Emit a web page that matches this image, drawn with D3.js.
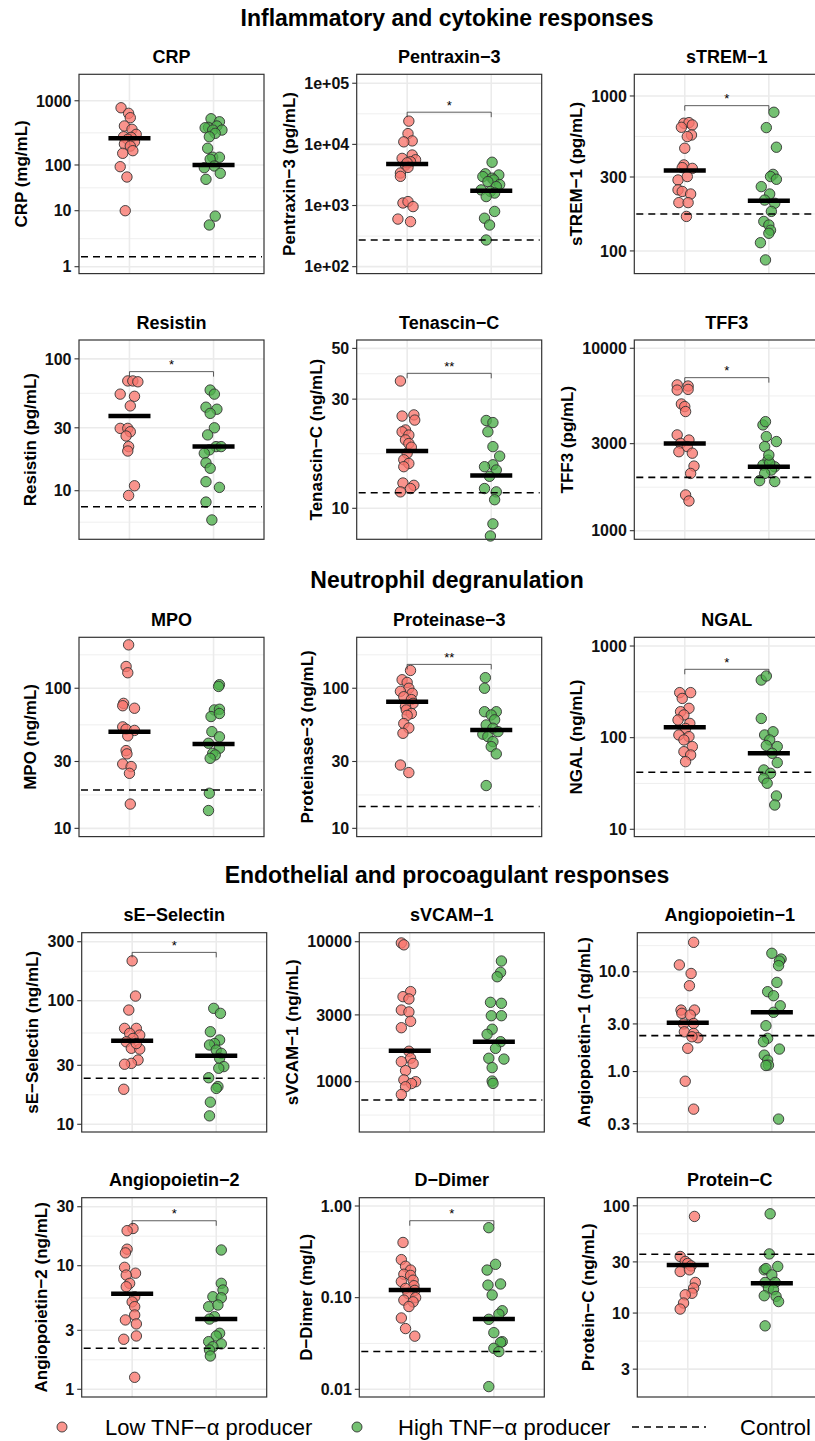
<!DOCTYPE html>
<html>
<head>
<meta charset="utf-8">
<script src="https://cdn.jsdelivr.net/npm/d3@7"></script>
<style>
  body { margin: 0; background: #fff; }
  svg { display: block; font-family: 'Liberation Sans', Arial, sans-serif; }
</style>
</head>
<body>
<svg id="chart" width="815" height="1441"></svg>
<script>
// ---- data ----
const sections = ['Inflammatory and cytokine responses', 'Neutrophil degranulation', 'Endothelial and procoagulant responses'];
const markers = ['CRP', 'Pentraxin−3', 'sTREM−1', 'Resistin', 'Tenascin−C', 'TFF3', 'MPO', 'Proteinase−3', 'NGAL',
  'sE−Selectin', 'sVCAM−1', 'Angiopoietin−1', 'Angiopoietin−2', 'D−Dimer', 'Protein−C'];
const units = ['mg/mL', 'pg/mL', 'pg/mL', 'pg/mL', 'ng/mL', 'pg/mL', 'ng/mL', 'ng/mL', 'ng/mL',
  'ng/mL', 'ng/mL', 'ng/mL', 'ng/mL', 'mg/L', 'ng/mL'];
const groups = ['Low', 'High'];
const legendLabels = ['Low TNF−α producer', 'High TNF−α producer', 'Control'];

const yTicks = [
  [1, 10, 100, 1000], [1e2, 1e3, 1e4, 1e5], [100, 300, 1000],
  [10, 30, 100], [10, 30, 50], [1000, 3000, 10000],
  [10, 30, 100], [10, 30, 100], [10, 100, 1000],
  [10, 30, 100, 300], [1000, 3000, 10000], [0.3, 1, 3, 10],
  [1, 3, 10, 30], [0.01, 0.1, 1], [3, 10, 30, 100]
];
const yTickLabels = [
  ['1', '10', '100', '1000'], ['1e+02', '1e+03', '1e+04', '1e+05'], ['100', '300', '1000'],
  ['10', '30', '100'], ['10', '30', '50'], ['1000', '3000', '10000'],
  ['10', '30', '100'], ['10', '30', '100'], ['10', '100', '1000'],
  ['10', '30', '100', '300'], ['1000', '3000', '10000'], ['0.3', '1.0', '3.0', '10.0'],
  ['1', '3', '10', '30'], ['0.01', '0.10', '1.00'], ['3', '10', '30', '100']
];
const yLimits = [
  [0.753, 2570], [77, 140000], [71.4, 1380],
  [4.28, 139], [7.32, 54.4], [897, 11100],
  [8.73, 231], [8.73, 231], [8.32, 1245],
  [8.66, 355], [437, 11600], [0.248, 24.6],
  [0.866, 35.5], [0.00824, 1.232], [1.65, 119]
];

const lowMedians = [260, 4790, 331, 36.9, 17.8, 3010, 49, 80, 130, 47.5, 1665, 3.08, 5.94, 0.121, 28];
const highMedians = [100, 1750, 211, 21.6, 13.9, 2240, 40, 50.4, 67.4, 35.9, 1930, 3.92, 3.7, 0.0585, 19.0];
const controls = [1.51, 273, 173, 7.55, 11.7, 1960, 18.8, 14.3, 41.9, 23.6, 740, 2.29, 2.15, 0.0258, 35.4];
const sigLabels = ['', '*', '*', '*', '**', '*', '', '**', '*', '*', '', '', '*', '*', ''];
const sigLevels = [null, 33600, 866, 80, 38.9, 6900, null, 148, 557, 246, null, null, 23.1, 0.691, null];

// individual patients (value) and horizontal jitter (in category widths)
const crpLow = [778, 637, 545, 405, 359, 300, 275, 269, 251, 230, 212, 197, 167, 152, 91.8, 54.6, 10];
const crpLowJit = [-0.10, -0.01, 0.01, -0.06, 0.03, 0.08, -0.07, 0.02, -0.02, 0.06, -0.06, 0.01, 0.04, -0.08, -0.11, -0.03, -0.05];
const crpHigh = [525, 471, 385, 405, 380, 350, 350, 311, 275, 182, 132, 132, 123, 87.3, 95, 65.8, 48.6, 8.0, 5.56];
const crpHighJit = [-0.03, 0.07, -0.06, 0.04, -0.10, -0.01, 0.10, 0.02, -0.05, -0.07, -0.01, 0.07, -0.04, -0.11, 0.01, 0.08, -0.09, 0.02, -0.05];

const ptx3Low = [24000, 15000, 11400, 11000, 6700, 5600, 5900, 5200, 4600, 3400, 3000, 1100, 1160, 960, 600, 545, 5000, 4200];
const ptx3LowJit = [0.02, 0.01, 0.06, -0.04, 0.06, 0.10, -0.06, 0.04, -0.02, -0.08, -0.08, -0.05, 0.01, 0.07, -0.11, 0.04, 0, 0.01];
const ptx3High = [5100, 3300, 3160, 2970, 2800, 2620, 2460, 2200, 2040, 1800, 1700, 1600, 1400, 800, 620, 480, 273];
const ptx3HighJit = [0.01, -0.07, 0.09, -0.10, 0.01, 0.03, -0.04, 0.10, 0.06, -0.12, -0.01, 0.04, -0.06, 0.04, -0.08, -0.02, -0.06];

const tremLow = [667, 673, 650, 628, 560, 547, 460, 359, 345, 341, 287, 302, 248, 242, 233, 205, 205, 167];
const tremLowJit = [-0.01, 0.05, 0.09, -0.04, 0.08, 0.03, 0, -0.01, -0.03, 0.09, -0.08, 0.03, -0.08, -0.03, 0.07, -0.07, 0.04, 0.02];
const tremHigh = [785, 625, 467, 312, 302, 290, 260, 233, 213, 203, 180, 155, 147, 136, 130, 113, 87.5];
const tremHighJit = [0.06, -0.03, 0.09, 0.05, 0.02, 0.09, -0.09, 0.01, -0.05, 0.07, 0.03, -0.06, 0, 0.02, 0, -0.10, -0.04];

const resLow = [68, 68, 67, 54, 52, 44, 29.7, 29.7, 28, 26, 21.6, 20, 10.9, 9.2];
const resLowJit = [-0.02, 0.04, 0.10, -0.11, 0.06, 0.01, -0.11, -0.02, 0.01, -0.04, -0.01, -0.02, 0.06, -0.01];
const resHigh = [58, 54, 43, 41.5, 38.6, 30, 26.5, 21.6, 20.4, 21.6, 19.2, 16.3, 14.8, 11.7, 10.6, 8.2, 6.0];
const resHighJit = [-0.04, 0.01, -0.09, 0.04, -0.04, 0.01, -0.07, 0.03, -0.05, 0.09, -0.11, -0.09, -0.04, -0.09, 0.07, -0.09, -0.02];

const tncLow = [36, 25.3, 25.6, 24.3, 22, 21.6, 20.9, 19.9, 19.2, 17.4, 16.3, 15.7, 15.2, 12.9, 12.6, 12.2, 11.8, 18.5];
const tncLowJit = [-0.08, -0.06, 0.08, 0.09, -0.02, -0.06, 0.02, -0.02, 0.02, 0, -0.04, 0.02, -0.04, -0.05, 0.08, 0.04, -0.08, 0.05];
const tncHigh = [24.2, 23.7, 21.6, 18.6, 16.9, 15.5, 15.2, 14.7, 13.8, 12.2, 11.8, 10.9, 8.55, 7.57];
const tncHighJit = [-0.06, 0.02, -0.04, 0.02, 0.10, 0.02, -0.08, 0.06, -0.02, -0.08, 0.06, 0.04, 0.02, -0.01];

const tff3Low = [6300, 6210, 5900, 5950, 4950, 4790, 4500, 3350, 3140, 3010, 2890, 2710, 2660, 2260, 2060, 1570, 1455];
const tff3LowJit = [-0.09, 0.04, -0.09, 0.04, -0.04, 0, 0.01, -0.09, 0.05, -0.05, 0.03, -0.07, 0.09, 0.11, 0.07, 0.01, 0.05];
const tff3High = [3800, 3960, 3280, 3080, 2890, 2440, 2290, 2240, 2150, 2060, 1880, 1860, 2350, 2600];
const tff3HighJit = [-0.07, -0.04, -0.03, 0.09, -0.05, -0.01, -0.07, 0.07, 0.03, -0.05, -0.11, 0.07, 0.01, 0];

const mpoLow = [204, 143, 129, 78, 75, 72, 53, 51, 50, 45.7, 35.9, 34, 28.8, 27.6, 24.7, 14.9];
const mpoLowJit = [-0.01, -0.04, -0.02, -0.07, -0.08, 0.06, -0.08, -0.04, 0.06, -0.02, -0.04, -0.03, -0.08, 0.02, 0, 0.01];
const mpoHigh = [106, 103, 70, 70.8, 62.8, 66, 49, 45, 40.5, 37.3, 34.3, 33.4, 31.6, 17.8, 13.4];
const mpoHighJit = [0.07, 0.06, 0.01, 0.07, -0.03, 0.07, -0.02, 0.07, -0.06, 0.07, -0.01, 0.02, -0.04, -0.05, -0.06];

const pr3Low = [134, 115, 110, 100, 95, 92, 87, 83, 78, 74, 70, 66, 64, 56, 52, 47.7, 28.3, 25];
const pr3LowJit = [0.04, -0.06, 0, 0.02, -0.08, 0.06, -0.04, 0.05, 0.07, -0.02, -0.01, 0.05, 0, -0.04, 0.02, -0.05, -0.08, 0.02];
const pr3High = [119, 100, 68, 68, 64.5, 59.5, 54.7, 51.8, 49, 47, 45.2, 41.6, 38.3, 34, 20.2];
const pr3HighJit = [-0.07, -0.08, -0.08, 0.06, 0, 0.04, -0.06, 0.02, 0.08, -0.10, -0.04, 0.02, 0, 0.06, -0.06];

const ngalLow = [310, 310, 268, 209, 192, 177, 156, 143, 126, 107, 102.6, 94.4, 79.8, 70.3, 64.7, 54.7];
const ngalLowJit = [-0.06, 0.07, -0.03, 0.05, -0.05, -0.01, -0.08, 0.06, 0.01, -0.07, 0.05, -0.01, 0.09, -0.01, 0.07, 0.01];
const ngalHigh = [425, 471, 162, 107, 116, 94.4, 80, 82, 67.5, 53.4, 44.4, 40.8, 35.9, 31.8, 23.1, 18.4];
const ngalHighJit = [-0.09, -0.03, -0.09, -0.05, 0.05, 0.01, 0.10, -0.03, 0.04, 0.10, -0.06, 0.02, -0.06, -0.02, 0.09, 0.07];

const selLow = [210, 109, 84, 59.7, 59.7, 54.4, 52.7, 49.5, 46.5, 41.2, 40.6, 33.1, 31.1, 30.6, 19.2, 45];
const selLowJit = [0, 0.04, -0.04, -0.09, 0.05, -0.03, 0.09, 0.01, -0.07, -0.01, 0.09, 0.07, -0.01, -0.09, -0.10, 0.05];
const selHigh = [86.7, 79, 56.1, 48.1, 45, 43.8, 39.9, 37.5, 34.2, 29.3, 28.4, 23.8, 20.2, 19.5, 15.1, 11.7];
const selHighJit = [-0.03, 0.05, -0.07, 0.04, -0.02, -0.08, 0, 0.06, 0.04, 0.09, 0.03, -0.09, 0.02, 0, -0.07, -0.08];

const vcamLow = [9800, 9500, 4400, 4050, 3900, 3250, 3150, 2700, 2430, 1650, 1470, 1390, 1350, 1200, 1030, 1000, 970, 920, 810];
const vcamLowJit = [-0.10, -0.07, 0.01, -0.08, -0.01, -0.10, -0.01, 0.01, -0.10, -0.01, 0.01, -0.10, 0.04, -0.05, -0.07, 0.07, 0.02, -0.05, -0.10];
const vcamHigh = [7280, 6040, 5620, 3690, 3630, 2960, 2960, 2370, 2180, 1930, 1730, 1470, 1450, 1260, 1010, 973];
const vcamHighJit = [0.09, 0.08, 0.04, -0.04, 0.09, -0.03, 0.09, -0.02, -0.08, 0.08, 0.02, -0.06, 0.12, -0.02, -0.02, -0.01];

const ang1Low = [19.7, 11.7, 9.6, 7.24, 4.13, 4.13, 3.83, 3.68, 3.03, 3.0, 2.5, 2.41, 2.18, 2.23, 1.71, 0.80, 0.42];
const ang1LowJit = [0.07, -0.10, 0.04, 0.02, -0.08, 0.08, -0.07, 0.03, 0.07, -0.05, -0.04, 0.07, 0.12, 0.05, 0, -0.03, 0.07];
const ang1High = [15.3, 13.4, 12.8, 11.5, 7.82, 6.31, 5.75, 4.56, 3.92, 2.88, 2.15, 1.99, 1.68, 1.46, 1.30, 1.16, 1.15, 0.334];
const ang1HighJit = [0, 0.11, 0.09, 0.08, 0.06, -0.05, 0.02, 0.10, 0.02, -0.07, -0.05, -0.10, 0.09, -0.09, -0.05, -0.04, -0.07, 0.08];

const ang2Low = [20, 19.2, 13.6, 12.7, 9.7, 8.7, 8.4, 7.2, 6.76, 5.6, 5.1, 4.66, 3.99, 3.64, 3.38, 2.7, 2.54, 1.25];
const ang2LowJit = [0.01, -0.06, -0.06, -0.08, -0.09, 0.04, -0.07, -0.03, -0.07, 0.03, 0, 0.03, 0.03, -0.08, 0.05, 0.05, -0.10, 0.03];
const ang2High = [13.4, 7.2, 6.36, 5.61, 5.5, 4.66, 4.81, 3.87, 3.7, 2.84, 2.7, 2.33, 2.43, 2.21, 2.08, 1.86];
const ang2HighJit = [0.06, 0.06, 0.08, -0.04, 0.06, -0.09, 0.02, -0.02, -0.08, 0.04, 0, 0.06, -0.09, -0.04, -0.08, -0.07];

const ddLow = [0.40, 0.26, 0.22, 0.20, 0.18, 0.175, 0.155, 0.15, 0.135, 0.126, 0.12, 0.111, 0.10, 0.094, 0.09, 0.08, 0.06, 0.046, 0.038];
const ddLowJit = [-0.08, -0.10, -0.05, 0.01, -0.07, 0.01, 0.04, -0.10, 0.05, -0.05, 0.06, -0.02, 0.07, -0.07, 0.04, -0.01, -0.10, -0.05, 0.06];
const ddHigh = [0.58, 0.231, 0.20, 0.141, 0.137, 0.107, 0.072, 0.066, 0.058, 0.0415, 0.0331, 0.0325, 0.028, 0.0258, 0.0107];
const ddHighJit = [-0.06, 0.02, -0.08, 0.08, -0.07, -0.02, 0.10, 0.06, -0.06, 0, 0.10, 0.08, 0, 0.06, -0.06];

const pcLow = [79.6, 33.7, 30.3, 29, 27.5, 24.4, 25.3, 19.3, 17.1, 15.3, 14.8, 12.4, 10.9];
const pcLowJit = [0.08, -0.09, -0.03, 0, 0.04, -0.09, 0.02, 0.09, 0.07, 0.05, -0.03, -0.05, -0.09];
const pcHigh = [84.2, 35.6, 25.3, 26, 27.2, 22.7, 19.3, 19.3, 17.1, 16.5, 14.5, 14.3, 12.8, 7.6];
const pcHighJit = [-0.02, -0.03, -0.09, -0.07, 0.07, 0, -0.08, 0.04, -0.04, 0.02, -0.09, 0.05, 0.08, -0.08];

const lowValues = [crpLow, ptx3Low, tremLow, resLow, tncLow, tff3Low, mpoLow, pr3Low, ngalLow, selLow, vcamLow, ang1Low, ang2Low, ddLow, pcLow];
const lowJitter = [crpLowJit, ptx3LowJit, tremLowJit, resLowJit, tncLowJit, tff3LowJit, mpoLowJit, pr3LowJit, ngalLowJit, selLowJit, vcamLowJit, ang1LowJit, ang2LowJit, ddLowJit, pcLowJit];
const highValues = [crpHigh, ptx3High, tremHigh, resHigh, tncHigh, tff3High, mpoHigh, pr3High, ngalHigh, selHigh, vcamHigh, ang1High, ang2High, ddHigh, pcHigh];
const highJitter = [crpHighJit, ptx3HighJit, tremHighJit, resHighJit, tncHighJit, tff3HighJit, mpoHighJit, pr3HighJit, ngalHighJit, selHighJit, vcamHighJit, ang1HighJit, ang2HighJit, ddHighJit, pcHighJit];

// ---- layout ----
const svg = d3.select('#chart');
const colors = { Low: '#F8766D', High: '#4DAF4A' };
const panelW = 185;
const panelH = 199.3;
const rowTops = [74.3, 340, 637.3, 932.7, 1197.7];
const colLefts = [[79, 356.7, 634.3], [79, 356.7, 634.3], [79, 356.7, 634.3], [81.7, 359.3, 637.3], [81.7, 359.3, 637.3]];
const sectionY = [26, 588, 883];
// the CRP axis in the figure is not evenly spaced per decade: break heights as a share of the panel
const breakShares = { 0: [0.0346, 0.3156, 0.545, 0.8672] };

svg.append('rect').attr('width', 815).attr('height', 1441).attr('fill', '#fff');

svg.selectAll('text.section')
  .data(sections)
  .join('text')
  .attr('class', 'section')
  .attr('x', 447)
  .attr('y', (d, i) => sectionY[i])
  .attr('text-anchor', 'middle')
  .attr('font-size', 23)
  .attr('font-weight', 'bold')
  .text(d => d);

function minorBreaks(ticks, dom, yf) {
  const t = ticks.map(Math.log10);
  const bd = t[1] - t[0];
  const ext = [t[0] - bd, ...t, t[t.length - 1] + bd];
  const out = [];
  for (let k = 0; k < ext.length - 1; k++) out.push(Math.pow(10, (ext[k] + ext[k + 1]) / 2));
  return out.filter(v => v > dom[0] && v < dom[1]);
}

function makeY(i, y0) {
  const lim = yLimits[i];
  if (!breakShares[i]) return d3.scaleLog().domain(lim).range([y0 + panelH, y0]);
  const lin = d3.scaleLinear()
    .domain([lim[0], ...yTicks[i], lim[1]].map(Math.log10))
    .range([0, ...breakShares[i], 1].map(s => y0 + panelH * (1 - s)));
  return v => lin(Math.log10(v));
}

markers.forEach((name, i) => {
  const row = Math.floor(i / 3);
  const col = i % 3;
  const x0 = colLefts[row][col];
  const y0 = rowTops[row];
  const g = svg.append('g');

  const y = makeY(i, y0);
  const x = d3.scalePoint().domain(groups).range([x0, x0 + panelW]).padding(0.6);
  const step = x.step();

  g.append('rect')
    .attr('x', x0).attr('y', y0).attr('width', panelW).attr('height', panelH)
    .attr('fill', '#fff');

  // grid (minor lines sit halfway between major ones on screen)
  const yt = yTicks[i].map(y);
  const half = yt.slice(1).map((p, k) => (p + yt[k]) / 2);
  if (!breakShares[i]) {
    half.length = 0;
    minorBreaks(yTicks[i], yLimits[i]).forEach(v => half.push(y(v)));
  }
  g.selectAll('line.minor')
    .data(half)
    .join('line')
    .attr('x1', x0).attr('x2', x0 + panelW)
    .attr('y1', d => d).attr('y2', d => d)
    .attr('stroke', '#EBEBEB').attr('stroke-width', 0.8);
  g.selectAll('line.major')
    .data(yTicks[i])
    .join('line')
    .attr('x1', x0).attr('x2', x0 + panelW)
    .attr('y1', d => y(d)).attr('y2', d => y(d))
    .attr('stroke', '#EBEBEB').attr('stroke-width', 1.6);
  g.selectAll('line.vgrid')
    .data(groups)
    .join('line')
    .attr('x1', d => x(d)).attr('x2', d => x(d))
    .attr('y1', y0).attr('y2', y0 + panelH)
    .attr('stroke', '#EBEBEB').attr('stroke-width', 1.6);

  // points
  const pts = [];
  lowValues[i].forEach((v, k) => pts.push({ g: 'Low', v, j: lowJitter[i][k] }));
  highValues[i].forEach((v, k) => pts.push({ g: 'High', v, j: highJitter[i][k] }));
  g.selectAll('circle')
    .data(pts)
    .join('circle')
    .attr('cx', d => x(d.g) + d.j * step)
    .attr('cy', d => y(d.v))
    .attr('r', 5.2)
    .attr('fill', d => colors[d.g])
    .attr('fill-opacity', 0.78)
    .attr('stroke', '#333')
    .attr('stroke-width', 0.9);

  // medians
  g.selectAll('line.median')
    .data([['Low', lowMedians[i]], ['High', highMedians[i]]])
    .join('line')
    .attr('x1', d => x(d[0]) - 0.25 * step)
    .attr('x2', d => x(d[0]) + 0.25 * step)
    .attr('y1', d => y(d[1])).attr('y2', d => y(d[1]))
    .attr('stroke', '#000').attr('stroke-width', 4.5);

  // control level
  g.append('line')
    .attr('x1', x0 + 2).attr('x2', x0 + panelW - 2)
    .attr('y1', y(controls[i])).attr('y2', y(controls[i]))
    .attr('stroke', '#000').attr('stroke-width', 1.6)
    .attr('stroke-dasharray', '7,5');

  // significance bracket
  if (sigLevels[i] !== null) {
    const by = y(sigLevels[i]);
    g.append('path')
      .attr('d', `M${x('Low')},${by + 5}V${by}H${x('High')}V${by + 5}`)
      .attr('fill', 'none').attr('stroke', '#333').attr('stroke-width', 0.8);
    g.append('text')
      .attr('x', (x('Low') + x('High')) / 2)
      .attr('y', by - 2.5)
      .attr('text-anchor', 'middle')
      .attr('font-size', 13)
      .text(sigLabels[i]);
  }

  // border
  g.append('rect')
    .attr('x', x0).attr('y', y0).attr('width', panelW).attr('height', panelH)
    .attr('fill', 'none').attr('stroke', '#333').attr('stroke-width', 1.2);

  // y axis ticks + labels
  g.selectAll('line.tick')
    .data(yTicks[i])
    .join('line')
    .attr('x1', x0 - 4.5).attr('x2', x0)
    .attr('y1', d => y(d)).attr('y2', d => y(d))
    .attr('stroke', '#333').attr('stroke-width', 1.1);
  const labels = g.selectAll('text.tick')
    .data(yTicks[i])
    .join('text')
    .attr('class', 'tick')
    .attr('x', x0 - 7.5)
    .attr('y', d => y(d))
    .attr('dy', '0.36em')
    .attr('text-anchor', 'end')
    .attr('font-size', 16)
    .attr('font-weight', 'bold')
    .attr('fill', '#111')
    .text((d, k) => yTickLabels[i][k]);
  let maxW = 0;
  labels.each(function () { maxW = Math.max(maxW, this.getComputedTextLength()); });

  const tx = x0 - 7.5 - maxW - 9;
  g.append('text')
    .attr('transform', `translate(${tx},${y0 + panelH / 2}) rotate(-90)`)
    .attr('text-anchor', 'middle')
    .attr('font-size', 17)
    .attr('font-weight', 'bold')
    .text(`${name} (${units[i]})`);

  // panel title
  g.append('text')
    .attr('x', x0 + panelW / 2)
    .attr('y', y0 - 11.5)
    .attr('text-anchor', 'middle')
    .attr('font-size', 18)
    .attr('font-weight', 'bold')
    .text(name);
});

// ---- legend ----
const leg = svg.append('g').attr('transform', 'translate(0,1427)');
leg.selectAll('circle')
  .data(groups)
  .join('circle')
  .attr('cx', (d, i) => [62, 357][i])
  .attr('cy', 0)
  .attr('r', 5)
  .attr('fill', d => colors[d])
  .attr('fill-opacity', 0.78)
  .attr('stroke', '#333')
  .attr('stroke-width', 0.9);
leg.append('line')
  .attr('x1', 632).attr('x2', 706).attr('y1', 0).attr('y2', 0)
  .attr('stroke', '#000').attr('stroke-width', 1.6).attr('stroke-dasharray', '7,5');
leg.selectAll('text')
  .data(legendLabels)
  .join('text')
  .attr('x', (d, i) => [105, 398, 740][i])
  .attr('y', 8)
  .attr('font-size', 22)
  .text(d => d);
</script>
</body>
</html>
